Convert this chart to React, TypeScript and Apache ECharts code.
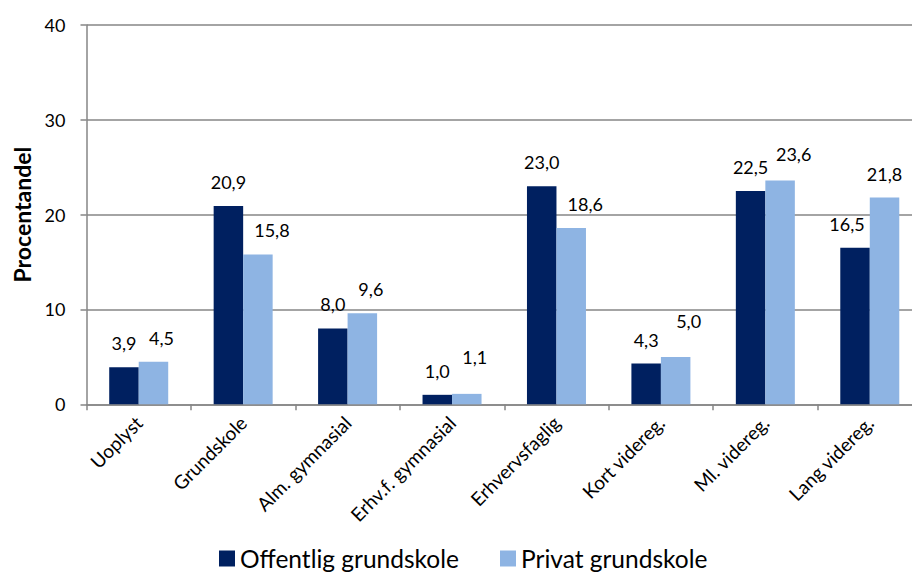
import React, { useEffect, useRef } from "react";
import * as echarts from "echarts";

const categories = [
  "Uoplyst",
  "Grundskole",
  "Alm. gymnasial",
  "Erhv.f. gymnasial",
  "Erhvervsfaglig",
  "Kort videreg.",
  "Ml. videreg.",
  "Lang videreg.",
];
const offentlig = [3.9, 20.9, 8.0, 1.0, 23.0, 4.3, 22.5, 16.5];
const privat = [4.5, 15.8, 9.6, 1.1, 18.6, 5.0, 23.6, 21.8];
const seriesNames = ["Offentlig grundskole", "Privat grundskole"];
const yTicks = { min: 0, max: 40, interval: 10 };

// manual nudges of the data labels (as in the original), [dx, dy] in px
const offentligLabelNudge = [[0, 0], [0, 0], [0, 0], [0, 0], [0, 0], [0, 0], [0, 0], [-8, 0]];
const privatLabelNudge = [[8, 0], [14, 0], [8.5, 0], [8, -12.5], [14, 0], [13, -12], [13.6, -3], [0, 0]];

const FONT = "Lato, 'Open Sans', sans-serif";
const GRAY = "#868686";

export default function App() {
  const ref = useRef<HTMLDivElement>(null);
  useEffect(() => {
    if (!ref.current) return;
    const chart = echarts.init(ref.current, undefined, { renderer: "svg" });
    const fmt = (p: any) => Number(p.value).toFixed(1).replace(".", ",");
    const label = {
      show: true,
      position: "top",
      distance: 15,
      color: "#000",
      fontSize: 18,
      fontFamily: FONT,
      formatter: fmt,
    };
    const withNudge = (vals: number[], nudges: number[][]) =>
      vals.map((v, i) => ({ value: v, label: { offset: nudges[i] } }));
    chart.setOption({
      animation: false,
      textStyle: { fontFamily: FONT },
      grid: { left: 86.5, right: 18, top: 25, bottom: 167.7, containLabel: false },
      legend: {
        left: 219,
        top: 546,
        padding: 0,
        itemWidth: 16,
        itemHeight: 16,
        itemGap: 41,
        icon: "rect",
        textStyle: { fontSize: 24.5, color: "#000", fontFamily: FONT },
        data: seriesNames,
      },
      xAxis: {
        type: "category",
        data: categories,
        axisLine: { lineStyle: { color: GRAY, width: 1.5 } },
        axisTick: { show: true, length: 6, lineStyle: { color: GRAY, width: 1.5 } },
        axisLabel: {
          rotate: 45,
          interval: 0,
          margin: 15,
          fontSize: 19,
          color: "#000",
          fontFamily: FONT,
        },
      },
      yAxis: {
        type: "value",
        min: yTicks.min,
        max: yTicks.max,
        interval: yTicks.interval,
        name: "Procentandel",
        nameLocation: "middle",
        nameGap: 52,
        nameTextStyle: { fontSize: 23, fontWeight: "bold", color: "#000", fontFamily: FONT },
        axisLine: { show: true, lineStyle: { color: GRAY, width: 1.5 } },
        axisTick: { show: true, length: 6, lineStyle: { color: GRAY, width: 1.5 } },
        axisLabel: { fontSize: 18, color: "#000", margin: 21, fontFamily: FONT },
        splitLine: { lineStyle: { color: GRAY, width: 1.5 } },
      },
      series: [
        {
          name: seriesNames[0],
          type: "bar",
          data: withNudge(offentlig, offentligLabelNudge),
          barGap: "0%",
          barCategoryGap: "43.5%",
          itemStyle: { color: "#002060" },
          label,
        },
        {
          name: seriesNames[1],
          type: "bar",
          data: withNudge(privat, privatLabelNudge),
          barGap: "0%",
          barCategoryGap: "43.5%",
          itemStyle: { color: "#8EB4E3" },
          label,
        },
      ],
    });
    return () => chart.dispose();
  }, []);
  return (
    <div
      style={{
        position: "absolute",
        left: 0,
        top: 0,
        width: 912,
        height: 572,
        overflow: "hidden",
        background: "#fff",
      }}
    >
      <div ref={ref} style={{ width: 940, height: 572 }} />
    </div>
  );
}
